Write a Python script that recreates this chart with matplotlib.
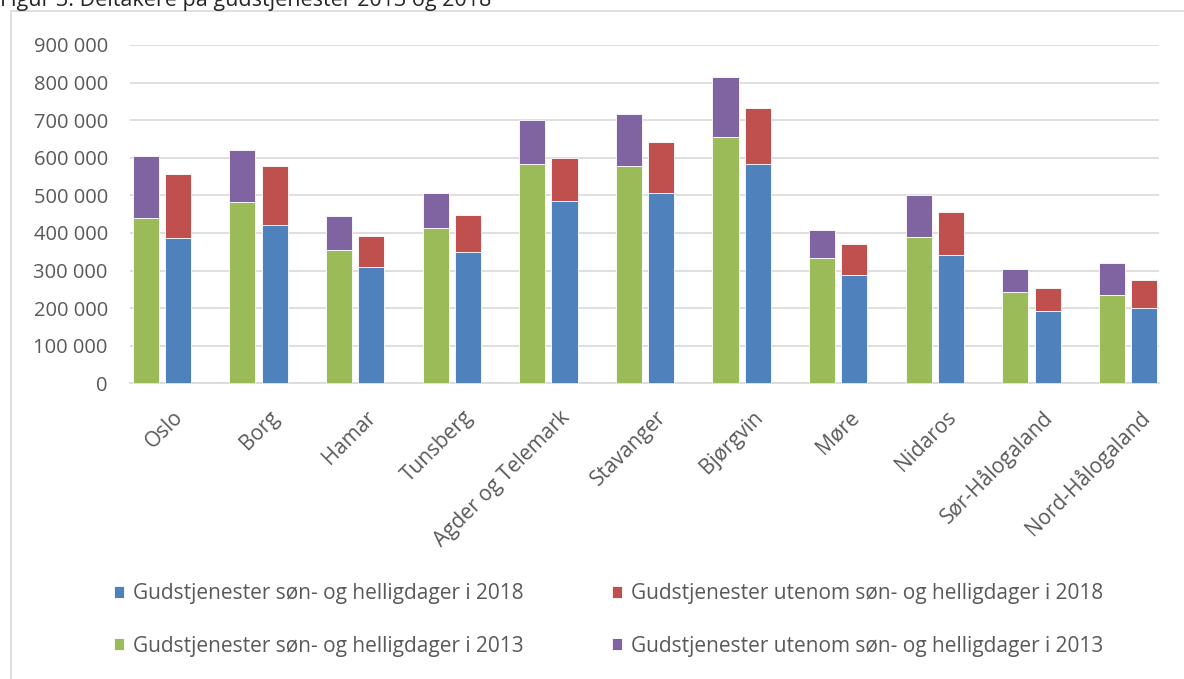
import matplotlib
matplotlib.use("Agg")
import matplotlib.pyplot as plt
from matplotlib.patches import Rectangle
from matplotlib.transforms import ScaledTranslation
import numpy as np

categories = ["Oslo", "Borg", "Hamar", "Tunsberg", "Agder og Telemark", "Stavanger",
              "Bjørgvin", "Møre", "Nidaros", "Sør-Hålogaland", "Nord-Hålogaland"]
son_2013 = [439000, 483000, 354000, 413000, 584000, 579000, 655000, 333000, 389000, 243000, 234000]
total_2013 = [606000, 620000, 444000, 506000, 700000, 717000, 816000, 408000, 502000, 304000, 319000]
son_2018 = [386000, 422000, 310000, 349000, 486000, 506000, 583000, 287000, 341000, 192000, 199000]
total_2018 = [556000, 578000, 393000, 447000, 600000, 642000, 733000, 371000, 456000, 254000, 275000]
uten_2013 = [t - s for t, s in zip(total_2013, son_2013)]
uten_2018 = [t - s for t, s in zip(total_2018, son_2018)]

labels = ["Gudstjenester søn- og helligdager i 2018",
          "Gudstjenester utenom søn- og helligdager i 2018",
          "Gudstjenester søn- og helligdager i 2013",
          "Gudstjenester utenom søn- og helligdager i 2013"]
yticks = [0, 100000, 200000, 300000, 400000, 500000, 600000, 700000, 800000, 900000]
title = "Figur 3. Deltakere på gudstjenester 2013 og 2018"

BLUE, RED, GREEN, PURPLE = "#4F81BD", "#C0504D", "#9BBB59", "#8064A2"
TXT = "#595959"
plt.rcParams['font.family'] = ['Open Sans', 'DejaVu Sans']

fig = plt.figure(figsize=(11.84, 6.79), dpi=100)
ax = fig.add_axes([130/1184, 1-383.3/679, (1159-130)/1184, (383.3-45)/679])

x = np.arange(len(categories))
w = 0.27
off = 0.167
ec = dict(edgecolor="white", linewidth=0.6)
b_g = ax.bar(x - off, son_2013, w, color=GREEN, **ec, zorder=3)
b_p = ax.bar(x - off, uten_2013, w, bottom=son_2013, color=PURPLE, **ec, zorder=3)
b_b = ax.bar(x + off, son_2018, w, color=BLUE, **ec, zorder=3)
b_r = ax.bar(x + off, uten_2018, w, bottom=son_2018, color=RED, **ec, zorder=3)

ax.set_xlim(-0.33, len(categories) - 1 + 0.32)
ax.set_ylim(0, 900000)
ax.set_yticks(yticks)
ax.set_yticklabels([f"{v:,}".replace(",", " ") for v in yticks], fontsize=14.5, color=TXT)
ax.yaxis.grid(True, color="#d9d9d9", linewidth=1.2, zorder=0)
ax.set_axisbelow(True)
ax.tick_params(axis="y", length=0, pad=16)
ax.set_xticks(x)
ax.set_xticklabels([])
ax.tick_params(axis="x", length=0)
lab_tr = ax.get_xaxis_transform() + ScaledTranslation(18/100, -31/100, fig.dpi_scale_trans)
for xi, c in zip(x, categories):
    ax.text(xi, 0, c, transform=lab_tr, rotation=45, rotation_mode="anchor",
            ha="right", va="center", fontsize=15, color=TXT)
for s in ["top", "right", "left"]:
    ax.spines[s].set_visible(False)
ax.spines["bottom"].set_color("#d9d9d9")
ax.spines["bottom"].set_linewidth(1.2)

leg = fig.legend([b_b, b_g, b_r, b_p], [labels[0], labels[2], labels[1], labels[3]],
                 ncol=2, loc="center", bbox_to_anchor=(0.514, 1 - 620/679),
                 frameon=False, fontsize=15, handlelength=0.5, handleheight=0.5,
                 handletextpad=0.45, columnspacing=4.2, labelspacing=1.5)
for t in leg.get_texts():
    t.set_color(TXT)

fig.patches.append(Rectangle((11/1184, -0.05), 1.2, 1.05 - 11/679, transform=fig.transFigure,
                             fill=False, edgecolor="#d9d9d9", linewidth=1.2))
fig.text(0.0, 1 - 6/679, title, fontsize=15.5, color="#262626", va="baseline", ha="left")

fig.savefig("out.png", dpi=100)
